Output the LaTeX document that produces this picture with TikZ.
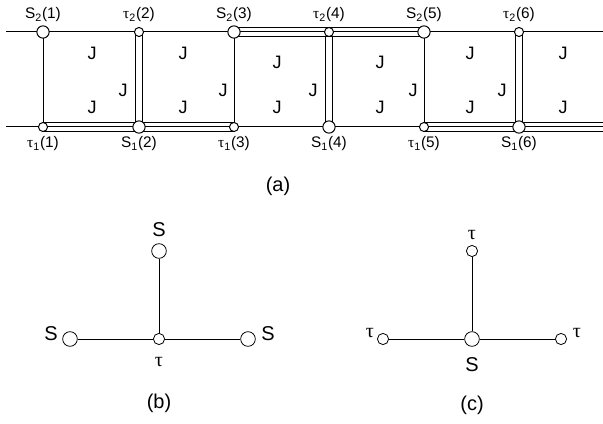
\documentclass[tikz,border=0pt]{standalone}
\usepackage{fontspec}
\setmainfont{Liberation Sans}
\newfontfamily\taufont{Liberation Serif}
\newcommand{\tauch}{{\taufont τ}}
\usetikzlibrary{positioning,backgrounds}

\begin{document}
\begin{tikzpicture}[x=0.75pt,y=-0.75pt,
  bigS/.style={draw, circle, fill=white, inner sep=0pt, minimum size=9.2pt, line width=0.75pt},
  smallT/.style={draw, circle, fill=white, inner sep=0pt, minimum size=6.8pt, line width=0.75pt},
  bigS2/.style={draw, circle, fill=white, inner sep=0pt, minimum size=11pt, line width=0.6pt},
  smallT2/.style={draw, circle, fill=white, inner sep=0pt, minimum size=8.4pt, line width=0.6pt},
  bond/.style={line width=0.75pt},
  pair/.style={double, line width=0.75pt, double distance=3.8pt},
  triple/.style={double, line width=0.75pt, double distance=6.5pt},
  arm/.style={line width=0.6pt},
  lbl/.style={inner sep=0pt, font=\fontsize{11.5}{13}\selectfont},
  jlbl/.style={inner sep=0pt, font=\fontsize{13.5}{15}\selectfont},
  big/.style={inner sep=0pt, font=\fontsize{15}{17}\selectfont}
]
\useasboundingbox (0,0) rectangle (603,424);

% (a) ladder
\coordinate (topL) at (6,32);
\coordinate (topR) at (603,32);
\coordinate (botL) at (6,127);
\coordinate (botR) at (603,127);
\node[bigS] (s21) at (43,32) {};
\node[smallT] (t22) at (139,32) {};
\node[bigS] (s23) at (234,32) {};
\node[smallT] (t24) at (329,32) {};
\node[bigS] (s25) at (424,32) {};
\node[smallT] (t26) at (519,32) {};
\node[smallT] (t11) at (43,127) {};
\node[bigS] (s12) at (139,127) {};
\node[smallT] (t13) at (234,127) {};
\node[bigS] (s14) at (329,127) {};
\node[smallT] (t15) at (424,127) {};
\node[bigS] (s16) at (519,127) {};

\begin{scope}[on background layer]
\draw[pair] (t22.center) -- (s12.center);
\draw[pair] (t24.center) -- (s14.center);
\draw[pair] (t26.center) -- (s16.center);
\draw[triple] (t11.center) -- (t13.center);
\draw[triple] (s23.center) -- (s25.center);
\draw[triple] (t15.center) -- (botR);
\draw[bond] (topL) -- (topR);
\draw[bond] (botL) -- (botR);
\draw[bond] (s21.center) -- (t11.center);
\draw[bond] (s23.center) -- (t13.center);
\draw[bond] (s25.center) -- (t15.center);
\end{scope}

\node[lbl] (ls21) at (43,15) {S\textsubscript{2}(1)};
\node[lbl] (lt22) at (139,15) {\tauch\textsubscript{2}(2)};
\node[lbl] (ls23) at (234,15) {S\textsubscript{2}(3)};
\node[lbl] (lt24) at (329,15) {\tauch\textsubscript{2}(4)};
\node[lbl] (ls25) at (424,15) {S\textsubscript{2}(5)};
\node[lbl] (lt26) at (519,15) {\tauch\textsubscript{2}(6)};
\node[lbl] (lt11) at (43,144) {\tauch\textsubscript{1}(1)};
\node[lbl] (ls12) at (139,144) {S\textsubscript{1}(2)};
\node[lbl] (lt13) at (234,144) {\tauch\textsubscript{1}(3)};
\node[lbl] (ls14) at (329,144) {S\textsubscript{1}(4)};
\node[lbl] (lt15) at (424,144) {\tauch\textsubscript{1}(5)};
\node[lbl] (ls16) at (519,144) {S\textsubscript{1}(6)};

\foreach \x/\y [count=\i] in {92/53, 92/107, 123/90, 183/53, 183/107, 223/90,
  277/62, 277/107, 313/90, 380/62, 380/107, 413/90,
  470/53, 470/107, 502/90, 563/53, 563/107}
  \node[jlbl] (j\i) at (\x,\y) {J};

\node[big] (capa) at (278,186) {(a)};

% (b) star around tau
\node[bigS2] (bS) at (159,251) {};
\node[smallT2] (bT) at (159,339) {};
\node[bigS2] (bL) at (70,339) {};
\node[bigS2] (bR) at (248,339) {};
\draw[arm] (bT) -- (bS);
\draw[arm] (bT) -- (bL);
\draw[arm] (bT) -- (bR);
\node[big] (lbS) at (159,230) {S};
\node[big] (lbL) at (51,334) {S};
\node[big] (lbR) at (268,334) {S};
\node[big] (lbT) at (159,362) {\tauch};
\node[big] (capb) at (159,403) {(b)};

% (c) star around S
\node[smallT2] (cT) at (472,251) {};
\node[bigS2] (cS) at (472,339) {};
\node[smallT2] (cL) at (383,339) {};
\node[smallT2] (cR) at (561,339) {};
\draw[arm] (cS) -- (cT);
\draw[arm] (cS) -- (cL);
\draw[arm] (cS) -- (cR);
\node[big] (lcT) at (472,235) {\tauch};
\node[big] (lcL) at (370,333) {\tauch};
\node[big] (lcR) at (577,333) {\tauch};
\node[big] (lcS) at (472,365) {S};
\node[big] (capc) at (472,405) {(c)};
\end{tikzpicture}
\end{document}
